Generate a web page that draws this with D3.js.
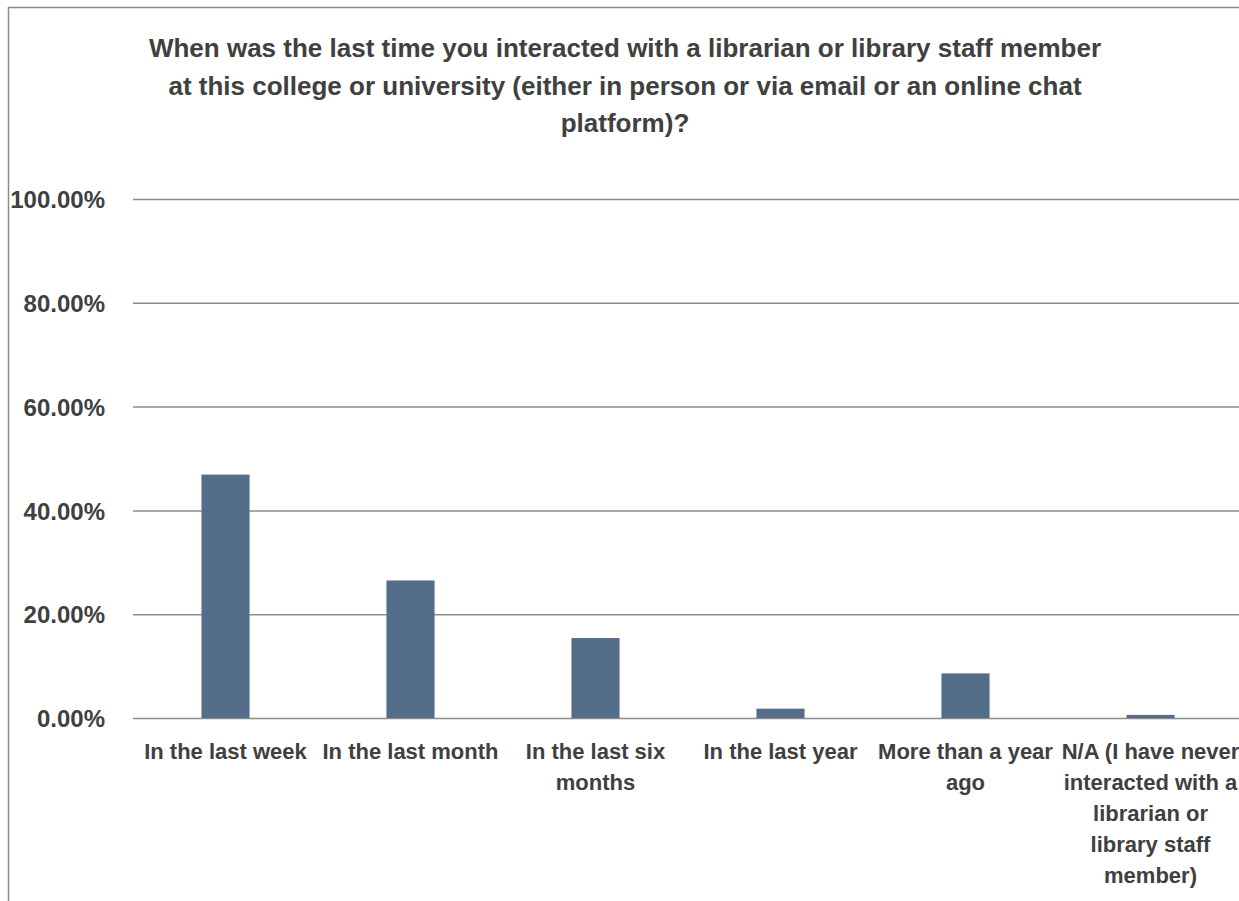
<!DOCTYPE html>
<html>
<head>
<meta charset="utf-8">
<script src="https://cdn.jsdelivr.net/npm/d3@7"></script>
<style>
  html, body { margin: 0; padding: 0; background: #fff; }
  svg { display: block; }
  text { font-family: "Liberation Sans", Arial, sans-serif; font-weight: bold; fill: #404040; }
</style>
</head>
<body>
<script>
// Survey responses: share of students by last contact with library staff
const categories = [
  "In the last week",
  "In the last month",
  "In the last six months",
  "In the last year",
  "More than a year ago",
  "N/A (I have never interacted with a librarian or library staff member)"
];
const values = [0.469, 0.265, 0.154, 0.018, 0.086, 0.006];
const tickLabelLines = [
  ["In the last week"],
  ["In the last month"],
  ["In the last six", "months"],
  ["In the last year"],
  ["More than a year", "ago"],
  ["N/A (I have never", "interacted with a", "librarian or", "library staff", "member)"]
];
const yTicks = [0, 0.2, 0.4, 0.6, 0.8, 1.0];
const titleLines = [
  "When was the last time you interacted with a librarian or library staff member",
  "at this college or university (either in person or via email or an online chat",
  "platform)?"
];

const W = 1239, H = 901;
const svg = d3.select("body").append("svg").attr("width", W).attr("height", H);

// chart frame (top and left edges)
svg.append("path")
  .attr("d", `M8.5,${H} V7.5 H${W}`)
  .attr("fill", "none").attr("stroke", "#8c8c8c").attr("stroke-width", 1.5);

const plot = { left: 133, right: 1243, top: 199, bottom: 718 };

const x = d3.scaleBand().domain(categories).range([plot.left, plot.right])
  .paddingInner(0.74).paddingOuter(0.37);
const y = d3.scaleLinear().domain([0, 1]).range([plot.bottom, plot.top]);

// title
svg.append("text")
  .attr("text-anchor", "middle")
  .style("font-size", "26px")
  .selectAll("tspan").data(titleLines).join("tspan")
  .attr("x", 625).attr("y", (d, i) => 57 + i * 37.5)
  .text(d => d);

// horizontal gridlines and y labels
const yAxis = d3.axisLeft(y).tickValues(yTicks)
  .tickSize(-(W - plot.left)).tickPadding(28)
  .tickFormat(d => (d * 100).toFixed(2) + "%");
const gy = svg.append("g").attr("transform", `translate(${plot.left},0)`).call(yAxis);
gy.select(".domain").remove();
gy.selectAll(".tick line").attr("stroke", "#8c8c8c").attr("stroke-width", 1.5);
gy.selectAll(".tick text").style("font-size", "24px").attr("fill", "#404040").attr("dy", "0.36em");

// bars
svg.append("g").selectAll("rect").data(values).join("rect")
  .attr("x", (d, i) => x(categories[i]))
  .attr("width", x.bandwidth())
  .attr("y", d => y(d))
  .attr("height", d => y(0) - y(d))
  .attr("fill", "#546e8a");

// category labels
const xAxis = d3.axisBottom(x).tickSize(0).tickFormat("");
const gx = svg.append("g").attr("transform", `translate(0,${plot.bottom})`).call(xAxis);
gx.select(".domain").remove();
gx.selectAll(".tick").each(function (d, i) {
  const t = d3.select(this).append("text")
    .attr("text-anchor", "middle")
    .style("font-size", "22px");
  t.selectAll("tspan").data(tickLabelLines[i]).join("tspan")
    .attr("x", 0).attr("y", (l, j) => 41 + j * 31)
    .text(l => l);
});
</script>
</body>
</html>
